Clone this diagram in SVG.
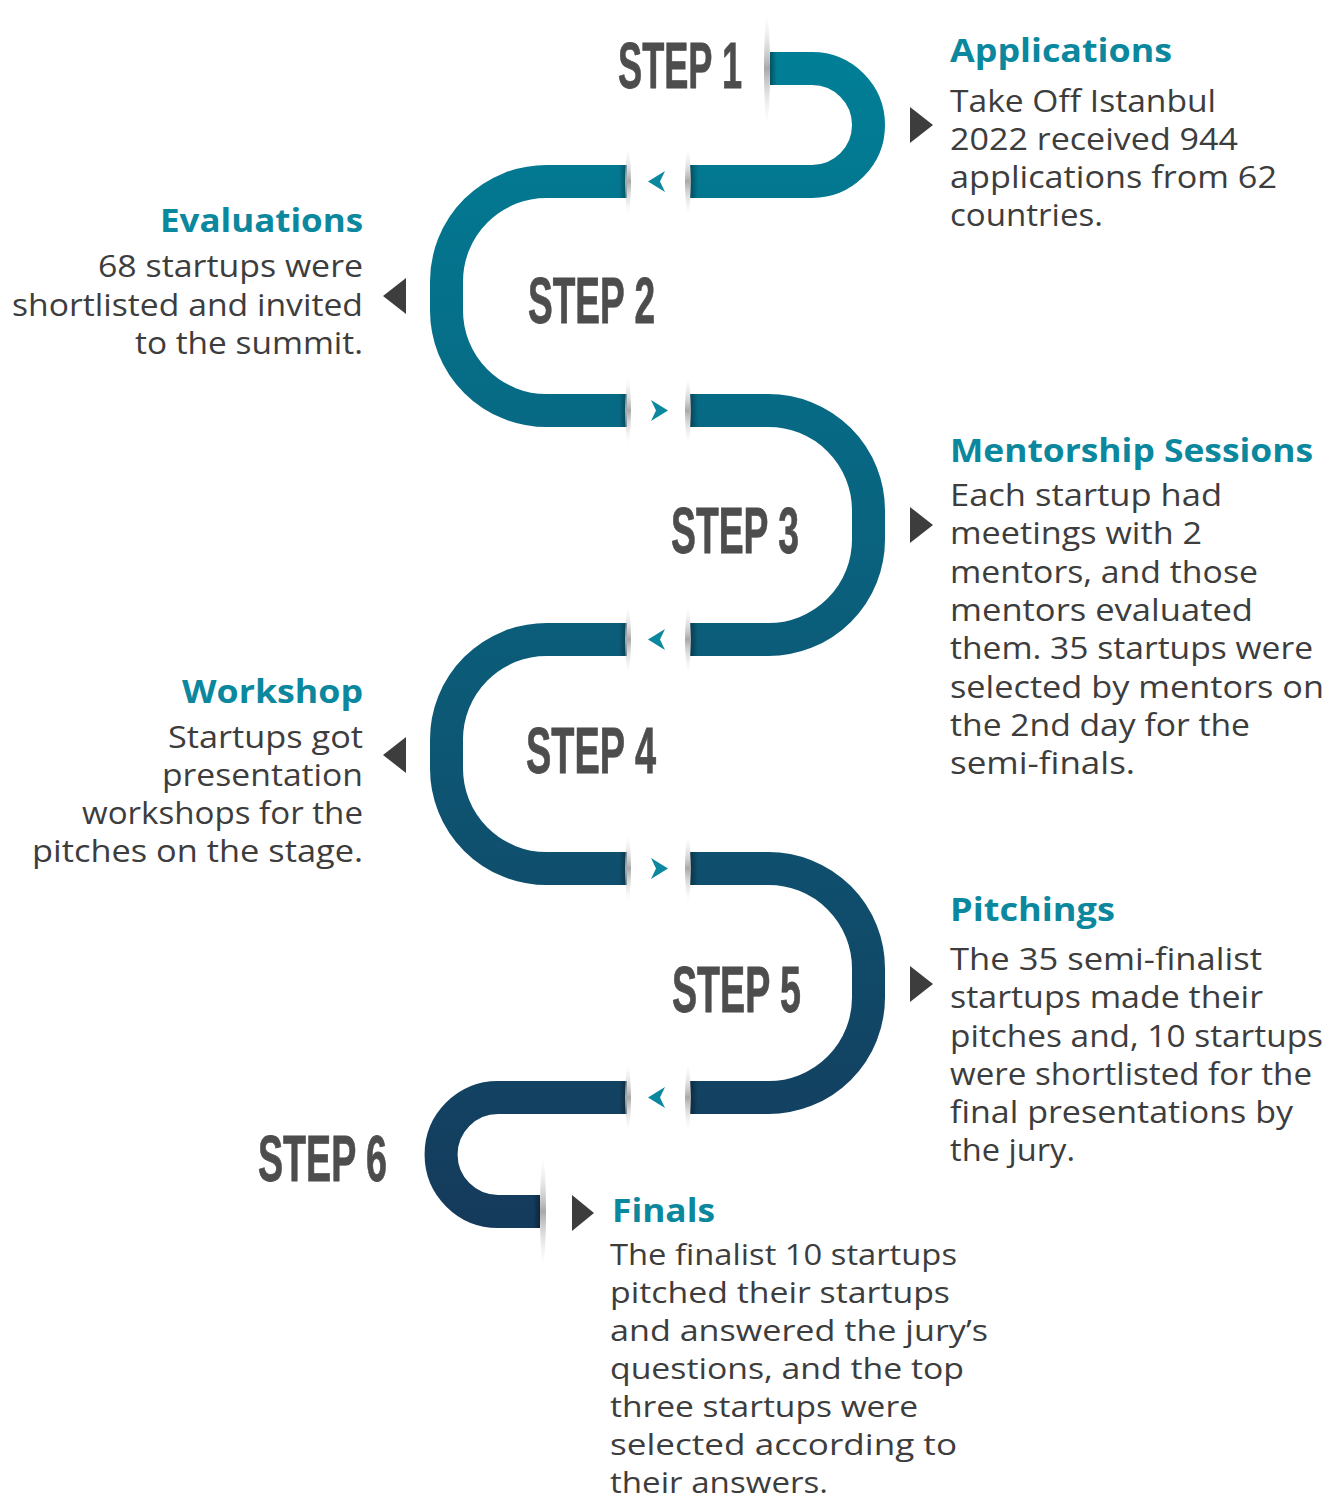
<svg xmlns="http://www.w3.org/2000/svg" width="1343" height="1501" viewBox="0 0 1343 1501">
<defs>
<style>
.band{fill:none;stroke:url(#bandGrad);stroke-width:33;stroke-linecap:butt}
.step{font-family:"Liberation Sans",Arial,sans-serif;font-weight:700;font-size:65px;fill:#4d4d4d;stroke:#4d4d4d;stroke-width:0.8}
.hd{font-family:"Open Sans","Liberation Sans",sans-serif;font-weight:700;font-size:32px;fill:#0b879e}
.tx{font-family:"Open Sans","Liberation Sans",sans-serif;font-size:31px;fill:#3d3d3d}
.tx2{font-family:"Open Sans","Liberation Sans",sans-serif;font-size:30px;fill:#3d3d3d}
.tri{fill:#3d3d3d}
.chev{fill:#0b88a0}
.lens{fill:url(#lensGrad)}
</style>
<linearGradient id="bandGrad" gradientUnits="userSpaceOnUse" x1="0" y1="52" x2="0" y2="1228">
<stop offset="0" stop-color="#017f97"/>
<stop offset="1" stop-color="#153a5b"/>
</linearGradient>
<linearGradient id="lensGrad" x1="0" y1="0" x2="0" y2="1">
<stop offset="0" stop-color="#ffffff" stop-opacity="0"/>
<stop offset="0.5" stop-color="#a9a9a9"/>
<stop offset="1" stop-color="#ffffff" stop-opacity="0"/>
</linearGradient>
<linearGradient id="shL" x1="0" y1="0" x2="1" y2="0">
<stop offset="0" stop-color="#000" stop-opacity="0"/>
<stop offset="1" stop-color="#000" stop-opacity="0.35"/>
</linearGradient>
<linearGradient id="shR" x1="0" y1="0" x2="1" y2="0">
<stop offset="0" stop-color="#000" stop-opacity="0.35"/>
<stop offset="1" stop-color="#000" stop-opacity="0"/>
</linearGradient>
<path id="lensS" d="M0,-37 C4,-15 4,15 0,37 C-4,15 -4,-15 0,-37Z"/>
<path id="lensB" d="M0,-62 C4,-25 4,25 0,62 C-4,25 -4,-25 0,-62Z"/>
<path id="chevL" d="M-9,0 L8,-10.5 L3,0 L8,10.5Z"/>
<path id="chevR" d="M9,0 L-8,-10.5 L-3,0 L-8,10.5Z"/>
</defs>
<rect width="1343" height="1501" fill="#ffffff"/>

<g id="connectors">
<path class="band" d="M770 68.5 H812 A56.5 56.5 0 0 1 812 181.5 H690"/>
<path class="band" d="M627 181.5 H546.5 A100 100 0 0 0 446.5 281.5 V310.5 A100 100 0 0 0 546.5 410.5 H627"/>
<path class="band" d="M690 410.5 H768.5 A100 100 0 0 1 868.5 510.5 V539.5 A100 100 0 0 1 768.5 639.5 H690"/>
<path class="band" d="M627 639.5 H546.5 A100 100 0 0 0 446.5 739.5 V768.5 A100 100 0 0 0 546.5 868.5 H627"/>
<path class="band" d="M690 868.5 H768.5 A100 100 0 0 1 868.5 968.5 V997.5 A100 100 0 0 1 768.5 1097.5 H690"/>
<path class="band" d="M627 1097.5 H498 A56.5 56.5 0 0 0 498 1211.5 H540"/>

<g id="shadows">
<rect x="770" y="52" width="7" height="33" fill="url(#shR)"/>
<rect x="533" y="1195" width="7" height="33" fill="url(#shL)"/>
<rect x="619" y="165" width="8" height="33" fill="url(#shL)"/>
<rect x="690" y="165" width="8" height="33" fill="url(#shR)"/>
<rect x="619" y="394" width="8" height="33" fill="url(#shL)"/>
<rect x="690" y="394" width="8" height="33" fill="url(#shR)"/>
<rect x="619" y="623" width="8" height="33" fill="url(#shL)"/>
<rect x="690" y="623" width="8" height="33" fill="url(#shR)"/>
<rect x="619" y="852" width="8" height="33" fill="url(#shL)"/>
<rect x="690" y="852" width="8" height="33" fill="url(#shR)"/>
<rect x="619" y="1081" width="8" height="33" fill="url(#shL)"/>
<rect x="690" y="1081" width="8" height="33" fill="url(#shR)"/>
</g>

<g id="dividers">
<use href="#lensB" class="lens" x="767" y="68.5"/>
<use href="#lensB" class="lens" x="543" y="1211.5"/>
<use href="#lensS" class="lens" x="628" y="181.5"/>
<use href="#lensS" class="lens" x="688" y="181.5"/>
<use href="#lensS" class="lens" x="628" y="410.5"/>
<use href="#lensS" class="lens" x="688" y="410.5"/>
<use href="#lensS" class="lens" x="628" y="639.5"/>
<use href="#lensS" class="lens" x="688" y="639.5"/>
<use href="#lensS" class="lens" x="628" y="868.5"/>
<use href="#lensS" class="lens" x="688" y="868.5"/>
<use href="#lensS" class="lens" x="628" y="1097.5"/>
<use href="#lensS" class="lens" x="688" y="1097.5"/>
</g>

<g id="chevrons">
<use href="#chevL" class="chev" x="657" y="181.5"/>
<use href="#chevR" class="chev" x="659" y="410.5"/>
<use href="#chevL" class="chev" x="657" y="639.5"/>
<use href="#chevR" class="chev" x="659" y="868.5"/>
<use href="#chevL" class="chev" x="657" y="1097.5"/>
</g>
</g>

<g id="step1">
<text class="step" x="618" y="88" textLength="124" lengthAdjust="spacingAndGlyphs">STEP 1</text>
<polygon class="tri" points="910,107 933,125 910,143"/>
<text class="hd" x="950" y="62" textLength="222" lengthAdjust="spacingAndGlyphs">Applications</text>
<text class="tx" x="950" y="112" textLength="266" lengthAdjust="spacingAndGlyphs">Take Off Istanbul</text>
<text class="tx" x="950" y="150" textLength="288" lengthAdjust="spacingAndGlyphs">2022 received 944</text>
<text class="tx" x="950" y="188" textLength="327" lengthAdjust="spacingAndGlyphs">applications from 62</text>
<text class="tx" x="950" y="226" textLength="153" lengthAdjust="spacingAndGlyphs">countries.</text>
</g>

<g id="step2">
<text class="step" x="528" y="323" textLength="127" lengthAdjust="spacingAndGlyphs">STEP 2</text>
<polygon class="tri" points="406,278 383,296 406,314"/>
<g text-anchor="end">
<text class="hd" x="363" y="232" textLength="203" lengthAdjust="spacingAndGlyphs">Evaluations</text>
<text class="tx" x="363" y="277" textLength="265" lengthAdjust="spacingAndGlyphs">68 startups were</text>
<text class="tx" x="363" y="316" textLength="351" lengthAdjust="spacingAndGlyphs">shortlisted and invited</text>
<text class="tx" x="363" y="354" textLength="228" lengthAdjust="spacingAndGlyphs">to the summit.</text>
</g>
</g>

<g id="step3">
<text class="step" x="671" y="553" textLength="128" lengthAdjust="spacingAndGlyphs">STEP 3</text>
<polygon class="tri" points="910,507 933,525 910,543"/>
<text class="hd" x="950" y="462" textLength="363" lengthAdjust="spacingAndGlyphs">Mentorship Sessions</text>
<text class="tx" x="950" y="506" textLength="272" lengthAdjust="spacingAndGlyphs">Each startup had</text>
<text class="tx" x="950" y="544" textLength="252" lengthAdjust="spacingAndGlyphs">meetings with 2</text>
<text class="tx" x="950" y="583" textLength="308" lengthAdjust="spacingAndGlyphs">mentors, and those</text>
<text class="tx" x="950" y="621" textLength="303" lengthAdjust="spacingAndGlyphs">mentors evaluated</text>
<text class="tx" x="950" y="659" textLength="363" lengthAdjust="spacingAndGlyphs">them. 35 startups were</text>
<text class="tx" x="950" y="698" textLength="374" lengthAdjust="spacingAndGlyphs">selected by mentors on</text>
<text class="tx" x="950" y="736" textLength="300" lengthAdjust="spacingAndGlyphs">the 2nd day for the</text>
<text class="tx" x="950" y="774" textLength="185" lengthAdjust="spacingAndGlyphs">semi-finals.</text>
</g>

<g id="step4">
<text class="step" x="526" y="773" textLength="130" lengthAdjust="spacingAndGlyphs">STEP 4</text>
<polygon class="tri" points="406,737 383,755 406,773"/>
<g text-anchor="end">
<text class="hd" x="363" y="703" textLength="181" lengthAdjust="spacingAndGlyphs">Workshop</text>
<text class="tx" x="363" y="748" textLength="195" lengthAdjust="spacingAndGlyphs">Startups got</text>
<text class="tx" x="363" y="786" textLength="201" lengthAdjust="spacingAndGlyphs">presentation</text>
<text class="tx" x="363" y="824" textLength="281" lengthAdjust="spacingAndGlyphs">workshops for the</text>
<text class="tx" x="363" y="862" textLength="331" lengthAdjust="spacingAndGlyphs">pitches on the stage.</text>
</g>
</g>

<g id="step5">
<text class="step" x="672" y="1012" textLength="129" lengthAdjust="spacingAndGlyphs">STEP 5</text>
<polygon class="tri" points="910,966 933,984 910,1002"/>
<text class="hd" x="950" y="921" textLength="165" lengthAdjust="spacingAndGlyphs">Pitchings</text>
<text class="tx" x="950" y="970" textLength="312" lengthAdjust="spacingAndGlyphs">The 35 semi-finalist</text>
<text class="tx" x="950" y="1008" textLength="313" lengthAdjust="spacingAndGlyphs">startups made their</text>
<text class="tx" x="950" y="1047" textLength="373" lengthAdjust="spacingAndGlyphs">pitches and, 10 startups</text>
<text class="tx" x="950" y="1085" textLength="362" lengthAdjust="spacingAndGlyphs">were shortlisted for the</text>
<text class="tx" x="950" y="1123" textLength="343" lengthAdjust="spacingAndGlyphs">final presentations by</text>
<text class="tx" x="950" y="1161" textLength="125" lengthAdjust="spacingAndGlyphs">the jury.</text>
</g>

<g id="step6">
<text class="step" x="258" y="1181" textLength="129" lengthAdjust="spacingAndGlyphs">STEP 6</text>
<polygon class="tri" points="572,1195 594,1213 572,1231"/>
<text class="hd" x="612" y="1222" textLength="103" lengthAdjust="spacingAndGlyphs">Finals</text>
<text class="tx2" x="610" y="1265" textLength="347" lengthAdjust="spacingAndGlyphs">The finalist 10 startups</text>
<text class="tx2" x="610" y="1303" textLength="340" lengthAdjust="spacingAndGlyphs">pitched their startups</text>
<text class="tx2" x="610" y="1341" textLength="378" lengthAdjust="spacingAndGlyphs">and answered the jury’s</text>
<text class="tx2" x="610" y="1379" textLength="354" lengthAdjust="spacingAndGlyphs">questions, and the top</text>
<text class="tx2" x="610" y="1417" textLength="308" lengthAdjust="spacingAndGlyphs">three startups were</text>
<text class="tx2" x="610" y="1455" textLength="347" lengthAdjust="spacingAndGlyphs">selected according to</text>
<text class="tx2" x="610" y="1493" textLength="218" lengthAdjust="spacingAndGlyphs">their answers.</text>
</g>
</svg>
